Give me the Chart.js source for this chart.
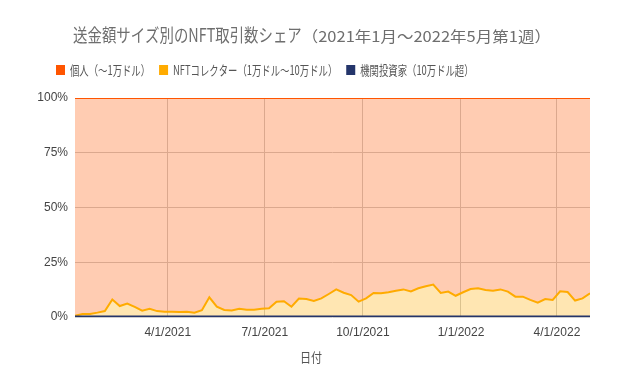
<!DOCTYPE html>
<html lang="ja">
<head>
<meta charset="utf-8">
<title>送金額サイズ別のNFT取引数シェア</title>
<script src="https://cdn.jsdelivr.net/npm/chart.js@4.4.1/dist/chart.umd.min.js"></script>
<style>
    body { margin: 0; background: #fff; }
    #grafico_div { width: 624px; height: 385px; }
</style>
</head>
<body>
<div id="grafico_div"><canvas id="grafico_nft"></canvas></div>
<script>
/* Dados: participação semanal (%) por faixa de valor, 4/1/2021 a 2/5/2022 */
const titulo_principal = '送金額サイズ別のNFT取引数シェア';
const titulo_periodo = '（2021年1月～2022年5月第1週）';
const titulo_eixo_x = '日付';

const nomes_series = [
    '個人（～1万ドル）',
    'NFTコレクター（1万ドル～10万ドル）',
    '機関投資家（10万ドル超）'
];

const semana_inicial = Date.UTC(2021, 0, 4);
const total_semanas = 70;

const ticks_datas = [
    Date.UTC(2021, 3, 1),
    Date.UTC(2021, 6, 1),
    Date.UTC(2021, 9, 1),
    Date.UTC(2022, 0, 1),
    Date.UTC(2022, 3, 1)
];

const ticks_pct = [0, 25, 50, 75, 100];

const valores_individual = [
    99.4, 98.6, 98.6, 98.0, 97.3, 92.0, 95.0, 93.9, 95.4, 97.1,
    96.3, 97.3, 97.6, 97.6, 97.7, 97.6, 98.0, 96.9, 91.0, 95.3,
    96.8, 97.0, 96.2, 96.7, 96.7, 96.2, 96.0, 93.0, 92.8, 95.3,
    91.6, 91.8, 92.7, 91.5, 89.5, 87.4, 88.9, 90.0, 93.0, 91.5,
    89.0, 89.2, 88.7, 88.0, 87.4, 88.3, 86.9, 86.0, 85.2, 89.0,
    88.4, 90.3, 88.7, 87.2, 86.9, 87.7, 88.0, 87.4, 88.4, 90.7,
    90.7, 92.2, 93.5, 91.8, 92.2, 88.3, 88.6, 92.5, 91.5, 89.2
];

const valores_colecionador = [
    0.4, 1.2, 1.2, 1.8, 2.5, 7.8, 4.8, 5.9, 4.4, 2.7,
    3.5, 2.5, 2.2, 2.2, 2.1, 2.2, 1.8, 2.9, 8.8, 4.5,
    3.0, 2.8, 3.6, 3.1, 3.1, 3.6, 3.8, 6.8, 7.0, 4.5,
    8.2, 8.0, 7.1, 8.3, 10.3, 12.4, 10.9, 9.8, 6.8, 8.3,
    10.8, 10.6, 11.1, 11.8, 12.4, 11.5, 12.9, 13.8, 14.6, 10.8,
    11.4, 9.5, 11.1, 12.6, 12.9, 12.1, 11.8, 12.4, 11.4, 9.1,
    9.1, 7.6, 6.3, 8.0, 7.6, 11.5, 11.2, 7.3, 8.3, 10.6
];

const valores_institucional = [
    0.2, 0.2, 0.2, 0.2, 0.2, 0.2, 0.2, 0.2, 0.2, 0.2,
    0.2, 0.2, 0.2, 0.2, 0.2, 0.2, 0.2, 0.2, 0.2, 0.2,
    0.2, 0.2, 0.2, 0.2, 0.2, 0.2, 0.2, 0.2, 0.2, 0.2,
    0.2, 0.2, 0.2, 0.2, 0.2, 0.2, 0.2, 0.2, 0.2, 0.2,
    0.2, 0.2, 0.2, 0.2, 0.2, 0.2, 0.2, 0.2, 0.2, 0.2,
    0.2, 0.2, 0.2, 0.2, 0.2, 0.2, 0.2, 0.2, 0.2, 0.2,
    0.2, 0.2, 0.2, 0.2, 0.2, 0.2, 0.2, 0.2, 0.2, 0.2
];

const cores_linhas = ['#ff5500', '#ffab00', '#24356b'];
const cores_areas = ['rgba(255, 85, 0, 0.3)', 'rgba(255, 171, 0, 0.3)', 'rgba(36, 53, 107, 0.3)'];

var datas_semanas = [];
for (let i = 0; i < total_semanas; i++) {
    datas_semanas.push(semana_inicial + i * 7 * 86400000);
}

function pontos(valores) {
    return valores.map((v, i) => ({ x: datas_semanas[i], y: v }));
}

function formatarData(valor) {
    var d = new Date(valor);
    return (d.getUTCMonth() + 1) + '/' + d.getUTCDate() + '/' + d.getUTCFullYear();
}

/* Título, legenda e título do eixo x, desenhados com a letra estreita do original */
const fonte_cjk = '"Noto Sans CJK JP", "Noto Sans", sans-serif';

function textoEstreito(ctx, texto, x, y, escala) {
    ctx.save();
    ctx.translate(x, y);
    ctx.scale(escala, 1);
    ctx.fillText(texto, 0, 0);
    ctx.restore();
    return ctx.measureText(texto).width * escala;
}

const plugin_textos = {
    id: 'textos',
    afterDraw(chart) {
        const ctx = chart.ctx;
        ctx.save();
        ctx.textAlign = 'left';

        // título
        ctx.textBaseline = 'alphabetic';
        ctx.fillStyle = '#6e6e6e';
        ctx.font = '18px ' + fonte_cjk;
        var w1 = ctx.measureText(titulo_principal).width * 0.8;
        ctx.font = '15px ' + fonte_cjk;
        var w2 = ctx.measureText(titulo_periodo).width * 1.1;
        var x = 312 - (w1 + w2) / 2;
        ctx.font = '18px ' + fonte_cjk;
        textoEstreito(ctx, titulo_principal, x, 42, 0.8);
        ctx.font = '15px ' + fonte_cjk;
        textoEstreito(ctx, titulo_periodo, x + w1, 42, 1.1);

        // legenda (ordem: individual, colecionador, institucional)
        ctx.textBaseline = 'middle';
        ctx.font = '13px ' + fonte_cjk;
        var lx = 56;
        for (let i = 0; i < nomes_series.length; i++) {
            ctx.fillStyle = cores_linhas[i];
            ctx.fillRect(lx, 65, 9, 10);
            ctx.fillStyle = '#555555';
            var w = textoEstreito(ctx, nomes_series[i], lx + 14, 70, 0.72);
            lx = lx + 14 + w + 9;
        }

        // título do eixo x
        ctx.font = '13px ' + fonte_cjk;
        ctx.fillStyle = '#555555';
        var wx = ctx.measureText(titulo_eixo_x).width * 0.85;
        textoEstreito(ctx, titulo_eixo_x, 311 - wx / 2, 357, 0.85);

        ctx.restore();
    }
};

const data_grafico_nft = {
    datasets: [
        {
            label: nomes_series[2],
            data: pontos(valores_institucional),
            borderColor: cores_linhas[2],
            backgroundColor: cores_areas[2],
            fill: 'origin'
        },
        {
            label: nomes_series[1],
            data: pontos(valores_colecionador),
            borderColor: cores_linhas[1],
            backgroundColor: cores_areas[1],
            fill: '-1'
        },
        {
            label: nomes_series[0],
            data: pontos(valores_individual),
            borderColor: cores_linhas[0],
            backgroundColor: cores_areas[0],
            fill: '-1'
        }
    ]
};

const config_grafico_nft = {
    type: 'line',
    data: data_grafico_nft,
    options: {
        responsive: true,
        maintainAspectRatio: false,
        animation: false,
        layout: { padding: { top: 98, right: 34, bottom: 16, left: 0 } },
        elements: {
            line: { borderWidth: 2, tension: 0 },
            point: { radius: 0 }
        },
        plugins: {
            legend: { display: false },
            title: { display: false },
            tooltip: { enabled: false }
        },
        scales: {
            x: {
                type: 'linear',
                min: datas_semanas[0],
                max: datas_semanas[datas_semanas.length - 1],
                afterBuildTicks: function (scale) {
                    scale.ticks = ticks_datas.map(v => ({ value: v }));
                },
                afterFit: function (scale) { scale.height = 52; },
                border: { display: false },
                grid: { color: '#cccccc', drawTicks: false },
                ticks: {
                    autoSkip: false,
                    maxRotation: 0,
                    padding: 8,
                    color: '#444444',
                    font: { family: 'Liberation Sans, Arial, sans-serif', size: 12 },
                    callback: formatarData
                }
            },
            y: {
                stacked: true,
                min: 0,
                max: 100,
                afterBuildTicks: function (scale) {
                    scale.ticks = ticks_pct.map(v => ({ value: v }));
                },
                afterFit: function (scale) { scale.width = 75; },
                border: { display: false },
                grid: { color: '#cccccc', drawTicks: false },
                ticks: {
                    padding: 7,
                    color: '#444444',
                    font: { family: 'Liberation Sans, Arial, sans-serif', size: 12 },
                    callback: v => v + '%'
                }
            }
        }
    },
    plugins: [plugin_textos]
};

const grafico_nft = new Chart(
    document.getElementById('grafico_nft'),
    config_grafico_nft
);
</script>
</body>
</html>
